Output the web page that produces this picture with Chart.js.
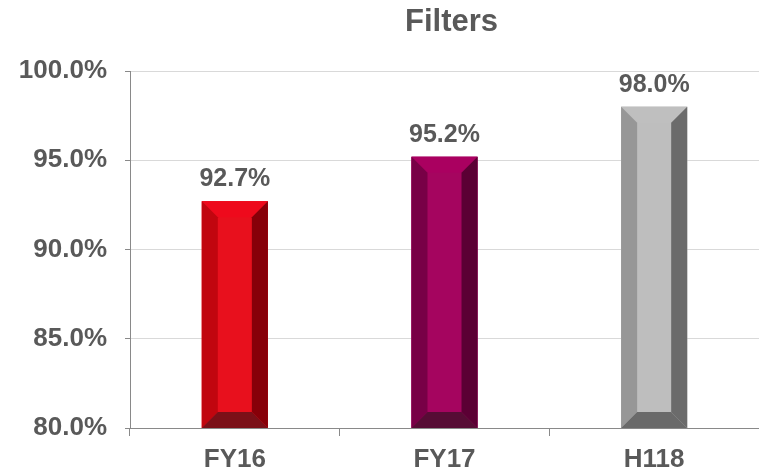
<!DOCTYPE html>
<html>
<head>
<meta charset="utf-8">
<script src="https://cdn.jsdelivr.net/npm/chart.js@4"></script>
<style>
  html, body { margin: 0; padding: 0; background: #fff; }
  #wrap { width: 759px; height: 475px; }
</style>
</head>
<body>
<div id="wrap"><canvas id="chart" width="759" height="475"></canvas></div>
<script>
// data
const categories = ['FY16', 'FY17', 'H118'];
const filterValues = [92.7, 95.2, 98.0];
const yTicks = [80, 85, 90, 95, 100];
const chartTitle = 'Filters';

// colours for each bar: front, top, left, right, bottom
const barFaces = [
  { front: '#E8101D', top: '#EE0A1C', left: '#C1060F', right: '#870009', bottom: '#7B1018' },
  { front: '#A5055F', top: '#AA0060', left: '#780046', right: '#5B0034', bottom: '#570C35' },
  { front: '#BEBEBE', top: '#BFBFBF', left: '#979797', right: '#6B6B6B', bottom: '#6A6A6A' }
];

const textColor = '#595959';
const fontFamily = '"Liberation Sans", Arial, sans-serif';

// paints the bevelled faces on top of each bar the library placed
const bevelPlugin = {
  id: 'bevel',
  afterDatasetsDraw(chart) {
    const ctx = chart.ctx;
    const area = chart.chartArea;
    const meta = chart.getDatasetMeta(0);
    meta.data.forEach((bar, i) => {
      const c = barFaces[i];
      const L = bar.x - bar.width / 2;
      const R = bar.x + bar.width / 2;
      const T = bar.y;
      const B = Math.min(bar.base, area.bottom);   // bars start below the axis min
      const b = 16;
      const poly = (pts, color) => {
        ctx.beginPath();
        ctx.moveTo(pts[0][0], pts[0][1]);
        for (let k = 1; k < pts.length; k++) ctx.lineTo(pts[k][0], pts[k][1]);
        ctx.closePath();
        ctx.fillStyle = color;
        ctx.fill();
      };
      ctx.save();
      poly([[L, T], [R, T], [R, B], [L, B]], c.front);
      poly([[L, T], [R, T], [R - b, T + b], [L + b, T + b]], c.top);
      poly([[L, T], [L + b, T + b], [L + b, B - b], [L, B]], c.left);
      poly([[R, T], [R, B], [R - b, B - b], [R - b, T + b]], c.right);
      poly([[L, B], [R, B], [R - b, B - b], [L + b, B - b]], c.bottom);
      ctx.restore();
    });
  }
};

// value labels above the bars, and the title (sits a bit right of the plot centre)
const textPlugin = {
  id: 'texts',
  afterDatasetsDraw(chart) {
    const ctx = chart.ctx;
    const meta = chart.getDatasetMeta(0);
    const area = chart.chartArea;
    ctx.save();
    ctx.fillStyle = textColor;
    ctx.textAlign = 'center';
    ctx.textBaseline = 'alphabetic';
    ctx.font = 'bold 25px ' + fontFamily;
    meta.data.forEach((bar, i) => {
      ctx.fillText(filterValues[i].toFixed(1) + '%', bar.x, bar.y - 15);
    });
    ctx.font = 'bold 31px ' + fontFamily;
    ctx.fillText(chartTitle, (area.left + area.right) / 2 + 7, 31);
    ctx.restore();
  }
};

new Chart(document.getElementById('chart'), {
  type: 'bar',
  data: {
    labels: categories,
    datasets: [{
      data: filterValues,
      backgroundColor: barFaces.map(f => f.front),
      borderWidth: 0,
      barPercentage: 0.315,
      categoryPercentage: 1
    }]
  },
  options: {
    responsive: false,
    animation: false,
    layout: { padding: { top: 71, right: 0, bottom: 0, left: 0 } },
    plugins: {
      legend: { display: false },
      tooltip: { enabled: false },
      title: { display: false }
    },
    scales: {
      y: {
        min: 80,
        max: 100,
        afterBuildTicks(scale) {
          scale.ticks = yTicks.map(v => ({ value: v }));
        },
        afterFit(scale) { scale.width = 130; },
        ticks: {
          color: textColor,
          padding: 18,
          font: { family: fontFamily, size: 26, weight: 'bold' },
          callback: v => v.toFixed(1) + '%'
        },
        grid: { color: '#D9D9D9', tickColor: '#898989', tickLength: 5 },
        border: { color: '#898989' }
      },
      x: {
        afterFit(scale) { scale.height = 47; },
        ticks: {
          color: textColor,
          padding: 8,
          font: { family: fontFamily, size: 26, weight: 'bold' }
        },
        grid: { offset: true, drawOnChartArea: false, tickColor: '#898989', tickLength: 8 },
        border: { color: '#898989' }
      }
    }
  },
  plugins: [bevelPlugin, textPlugin]
});
</script>
</body>
</html>
